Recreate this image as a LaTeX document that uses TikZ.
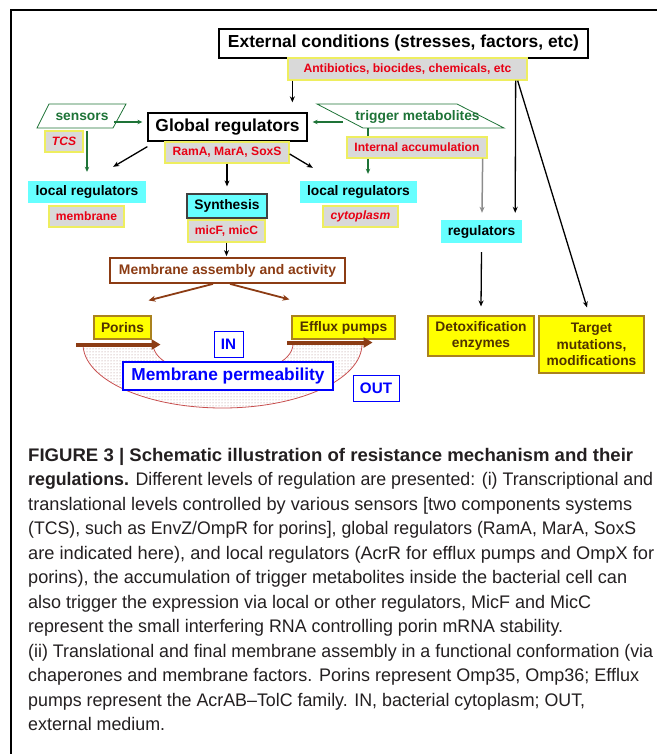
\documentclass[tikz,border=0pt]{standalone}
\usepackage{fontspec}
\setmainfont{Liberation Sans}
\usetikzlibrary{arrows.meta,patterns,calc}
\definecolor{gfill}{RGB}{217,217,217}
\definecolor{ybord}{RGB}{238,238,95}
\definecolor{rtext}{RGB}{232,0,20}
\definecolor{cyanf}{RGB}{102,255,255}
\definecolor{grn}{RGB}{30,115,55}
\definecolor{brn}{RGB}{140,60,20}
\definecolor{ybox}{RGB}{255,255,0}
\definecolor{ybdr}{RGB}{170,130,30}
\definecolor{ytext}{RGB}{80,50,0}
\definecolor{blu}{RGB}{0,0,255}
\definecolor{arcc}{RGB}{200,80,80}
\definecolor{captc}{RGB}{35,31,32}
\newcommand{\fs}[1]{\fontsize{#1}{#1}\selectfont}
\newlength{\capw}
\newcommand{\fitw}[2]{\settowidth{\capw}{#2}\pgfmathsetmacro{\capfac}{#1/\capw}\scalebox{\capfac}[1]{#2}}
\begin{document}
\begin{tikzpicture}[x=1pt,y=-1pt,
  box/.style={inner sep=0pt, align=center},
  blackbox/.style={box, draw=black, line width=1.3pt, fill=white, font=\bfseries\fs{17.4}},
  graybox/.style={box, fill=gfill, draw=ybord, line width=1.3pt, text=rtext, font=\bfseries\fs{12.1}},
  cyanbox/.style={box, fill=cyanf, font=\bfseries\fs{13.8}},
  yelbox/.style={box, fill=ybox, draw=ybdr, line width=1.1pt, text=ytext, font=\bfseries\fontsize{13.8}{16.3}\selectfont},
  bluebox/.style={box, fill=white, draw=blu, line width=1.3pt, text=blu, font=\bfseries\fs{15.2}},
  gtext/.style={inner sep=0pt, text=grn, font=\bfseries\fs{13.8}},
  arr/.style={-{Stealth[length=6pt,width=5pt]}, line width=1.3pt, black},
  garr/.style={-{Stealth[length=5pt,width=4.5pt]}, line width=1.1pt, grn},
  grayarr/.style={-{Stealth[length=6pt,width=5pt]}, line width=1.5pt, gray!90},
  barr/.style={-{Stealth[length=7pt,width=6pt]}, line width=1.8pt, brn},
  thickarr/.style={-{Triangle[length=9pt,width=10pt]}, line width=4pt, brn},
  captxt/.style={inner sep=0pt, anchor=base west, text=captc, font=\fs{18.2}}
]
\useasboundingbox (0,0) rectangle (657,754);
% frame
\draw[line width=2.2pt] (11,754) -- (11,10) -- (657,10);

% crescent (membrane)
\fill[pattern=dots, pattern color={rgb,255:red,170;green,130;blue,130}]
  (83,344) .. controls (83,379.35) and (145.45,408) .. (222.5,408)
  .. controls (299.55,408) and (362,379.35) .. (362,344)
  -- (293,344) .. controls (293,361.67) and (261.66,376) .. (223,376)
  .. controls (184.34,376) and (153,361.67) .. (153,344) -- cycle;
\draw[arcc, line width=0.8pt]
  (83,344) .. controls (83,379.35) and (145.45,408) .. (222.5,408)
  .. controls (299.55,408) and (362,379.35) .. (362,344);
\draw[arcc, line width=0.8pt]
  (293,344) .. controls (293,361.67) and (261.66,376) .. (223,376)
  .. controls (184.34,376) and (153,361.67) .. (153,344);

% top
\node[blackbox, minimum width=369pt, minimum height=29pt] (ext) at (403.5,43.5) {External conditions (stresses, factors, etc)};
\node[graybox, minimum width=239pt, minimum height=22pt] (anti) at (407.5,69) {Antibiotics, biocides, chemicals, etc};

% global
\node[blackbox, minimum width=159pt, minimum height=28pt] (glob) at (227.5,127) {Global regulators};
\node[graybox, minimum width=124pt, minimum height=21pt] (rama) at (227,152.5) {RamA, MarA, SoxS};

% sensors
\draw[grn, line width=0.8pt] (49,104) -- (126,104) -- (113,128) -- (37,128) -- cycle;
\node[gtext] (sens) at (82,117) {sensors};
\node[graybox, minimum width=38pt, minimum height=21pt, font=\bfseries\itshape\fs{12.1}] (tcs) at (64,141.5) {TCS};

% trigger metabolites
\draw[grn, line width=0.8pt] (317,104) -- (457,104) -- (504,128) -- (363,128) -- cycle;
\node[gtext] (trig) at (417.5,117) {trigger metabolites};
\node[graybox, minimum width=140pt, minimum height=21pt] (intacc) at (417,147.5) {Internal accumulation};

% local regulators
\node[cyanbox, minimum width=118pt, minimum height=22pt] (lrl) at (87,192) {local regulators};
\node[graybox, minimum width=75pt, minimum height=21pt] (memb) at (86.5,216.5) {membrane};
\node[cyanbox, minimum width=117pt, minimum height=22pt] (lrr) at (358.5,192) {local regulators};
\node[graybox, minimum width=75pt, minimum height=21pt, font=\bfseries\itshape\fs{12.1}] (cyto) at (360.5,216.5) {cytoplasm};

% synthesis
\node[cyanbox, draw=black!75, line width=1.2pt, minimum width=80pt, minimum height=24pt] (synth) at (227,206) {Synthesis};
\node[graybox, minimum width=77pt, minimum height=22pt] (micf) at (226.5,231) {micF, micC};

% right column
\node[cyanbox, minimum width=81pt, minimum height=23pt] (regs) at (481.5,231.5) {regulators};
\node[yelbox, minimum width=106pt, minimum height=40pt] (detox) at (481,336) {Detoxification\\enzymes};
\node[yelbox, minimum width=105pt, minimum height=57pt] (target) at (591.5,344.5) {Target\\mutations,\\modifications};

% membrane assembly
\node[box, draw=brn, line width=1.8pt, fill=white, text=brn, font=\bfseries\fs{13.9}, minimum width=235pt, minimum height=25pt] (mass) at (227.5,270.5) {Membrane assembly and activity};
\node[yelbox, minimum width=57pt, minimum height=23pt] (porins) at (122.5,327.5) {Porins};
\node[yelbox, minimum width=103pt, minimum height=23pt] (efflux) at (343.5,327.5) {Efflux pumps};

% blue boxes
\node[bluebox, minimum width=210pt, minimum height=28pt, font=\bfseries\fs{17.3}] (mperm) at (228,376) {Membrane permeability};
\node[bluebox, line width=0.9pt, minimum width=29pt, minimum height=26pt] (in) at (228.5,344) {IN};
\node[bluebox, line width=0.9pt, minimum width=46pt, minimum height=26pt] (out) at (376,388) {OUT};

% coordinates
\coordinate (sR) at (114,122);
\coordinate (sB) at (87,131);
\coordinate (tL) at (343,122);
\coordinate (tB) at (368,128);

% arrows
\draw[arr] ($(anti.south west)+(5,0)$) -- ($(glob.north west)+(145,-10)$);
\draw[garr, shorten >=5pt] (sR) -- (glob.west |- sR);
\draw[garr, shorten >=9pt] (sB) -- (lrl.north -| sB);
\draw[arr] ($(glob.south west)+(0,5)$) -- ($(lrl.north east)+(-33,-14)$);
\draw[arr, shorten >=7pt] (rama.south) -- (synth.north);
\draw[arr] ($(rama.east)+(0,1.5)$) -- ($(lrr.north west)+(13,-13)$);
\draw[garr, shorten >=5pt] (tL) -- (glob.east |- tL);
\draw[grn, line width=1.1pt] (tB) -- (intacc.north -| tB);
\draw[garr, shorten >=7pt] (intacc.south -| tB) -- (lrr.north -| tB);
\draw[grayarr] ($(intacc.south east)+(-5,0)$) -- ($(regs.north)+(0.5,-7)$);
\draw[arr] ($(anti.south east)+(-12,0)$) -- ($(regs.north east)+(-7,-7)$);
\draw[arr] ($(anti.south east)+(-10,0)$) -- ($(target.north)+(-4.5,-8)$);
\draw[arr] ($(regs.south)+(0,9)$) -- ($(detox.north)+(0,-9)$);
\draw[arr, shorten >=1pt] (micf.south) -- (mass.north -| micf.south);
\draw[barr] ($(mass.south)+(-14.5,0)$) -- ($(porins.north east)+(-3,-15)$);
\draw[barr] ($(mass.south)+(2.5,0)$) -- ($(efflux.north west)+(-2,-16)$);
\draw[thickarr] ($(porins.south west)+(-17,5)$) -- ($(porins.south east)+(9,5)$);
\draw[thickarr] ($(efflux.south west)+(-4,3)$) -- ($(efflux.south east)+(-23,3)$);

% caption
\node[captxt] (c1) at (28,461) {\bfseries\fitw{605}{FIGURE 3 | Schematic illustration of resistance mechanism and their}};
\node[captxt] (c2) at (28,485.5) {\fitw{625}{\textbf{regulations.} Different levels of regulation are presented: (i) Transcriptional and}};
\node[captxt] (c3) at (28,510) {\fitw{604}{translational levels controlled by various sensors [two components systems}};
\node[captxt] (c4) at (28,534.5) {\fitw{608}{(TCS), such as EnvZ/OmpR for porins], global regulators (RamA, MarA, SoxS}};
\node[captxt] (c5) at (28,559) {\fitw{626}{are indicated here), and local regulators (AcrR for efflux pumps and OmpX for}};
\node[captxt] (c6) at (28,583.5) {\fitw{599}{porins), the accumulation of trigger metabolites inside the bacterial cell can}};
\node[captxt] (c7) at (28,608) {\fitw{563}{also trigger the expression via local or other regulators, MicF and MicC}};
\node[captxt] (c8) at (28,632.5) {\fitw{535}{represent the small interfering RNA controlling porin mRNA stability.}};
\node[captxt] (c9) at (28,657) {\fitw{625}{(ii) Translational and final membrane assembly in a functional conformation (via}};
\node[captxt] (c10) at (28,681.5) {\fitw{611}{chaperones and membrane factors. Porins represent Omp35, Omp36; Efflux}};
\node[captxt] (c11) at (28,706) {\fitw{557}{pumps represent the AcrAB–TolC family. IN, bacterial cytoplasm; OUT,}};
\node[captxt] (c12) at (28,730.5) {\fitw{137}{external medium.}};
\end{tikzpicture}
\end{document}
